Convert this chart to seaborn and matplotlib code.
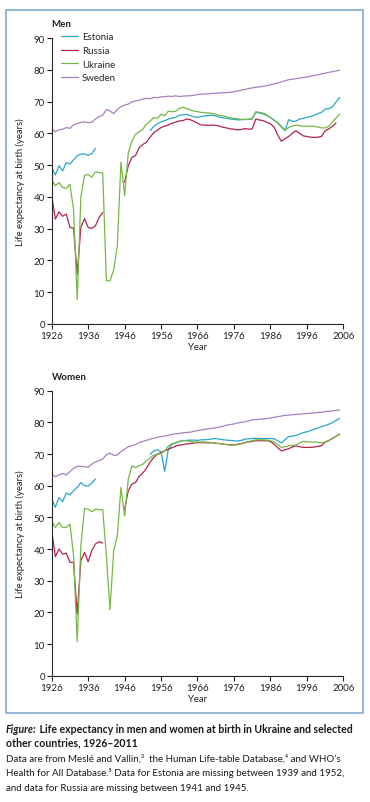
import numpy as np
import pandas as pd
import matplotlib
matplotlib.use("Agg")
import matplotlib.pyplot as plt
from matplotlib.patches import Rectangle
import seaborn as sns

nan = np.nan
years = list(range(1926, 2006))
countries = ["Estonia", "Russia", "Ukraine", "Sweden"]
colors = ["#2ba6cb", "#b3234f", "#76b846", "#a980c0"]

# ---- men ----
men_sweden = [61.5, 60.5, 61.1, 61.3, 61.8, 61.6, 62.7, 63.1, 63.4, 63.6,
              63.4, 63.5, 64.5, 65.3, 65.7, 67.5, 67.0, 66.2, 67.5, 68.4,
              68.9, 69.2, 69.9, 70.2, 70.4, 70.8, 71.0, 70.9, 71.3, 71.2,
              71.5, 71.5, 71.7, 71.6, 71.8, 71.6, 71.7, 71.8, 71.8, 72.0,
              72.2, 72.3, 72.4, 72.4, 72.6, 72.6, 72.7, 72.8, 72.8, 72.9,
              73.1, 73.3, 73.6, 73.8, 74.1, 74.3, 74.5, 74.6, 74.8, 75.0,
              75.3, 75.6, 75.8, 76.2, 76.5, 76.9, 77.0, 77.2, 77.4, 77.6,
              77.7, 78.0, 78.2, 78.4, 78.7, 78.9, 79.2, 79.4, 79.6, 79.9]
men_estonia = [49.3, 46.9, 49.8, 48.2, 50.8, 50.3, 51.7, 52.9, 53.5, 53.5,
               53.1, 53.6, 55.3, nan, nan, nan, nan, nan, nan, nan,
               nan, nan, nan, nan, nan, nan, nan, 60.8, 62.2, 63.0,
               63.6, 64.0, 64.5, 64.8, 65.0, 65.7, 65.8, 66.0, 65.6, 65.2,
               65.0, 65.3, 65.5, 65.6, 65.7, 65.5, 65.1, 64.9, 64.7, 64.5,
               64.4, 64.2, 64.3, 64.4, 64.4, 64.5, 66.6, 66.4, 66.1, 65.6,
               65.0, 64.2, 63.2, 62.0, 60.8, 64.3, 63.8, 63.8, 64.5, 64.7,
               65.0, 65.3, 65.7, 66.2, 66.6, 67.6, 67.8, 68.3, 69.9, 71.3]
men_russia = [40.4, 33.0, 35.3, 33.9, 34.6, 30.4, 30.1, 15.7, 30.4, 33.2,
              30.4, 30.1, 30.9, 33.5, 35.1, nan, nan, nan, nan, nan,
              44.6, 49.8, 52.4, 53.0, 55.5, 56.5, 57.2, 58.8, 60.2, 61.0,
              61.8, 62.3, 62.6, 63.2, 63.5, 63.9, 64.0, 64.5, 64.3, 63.8,
              63.2, 62.6, 62.6, 62.5, 62.6, 62.5, 62.3, 61.9, 61.7, 61.4,
              61.3, 61.1, 61.2, 61.5, 61.3, 61.4, 64.5, 64.2, 64.0, 63.5,
              63.0, 62.0, 59.5, 57.5, 58.3, 59.0, 60.0, 60.8, 60.0, 59.2,
              59.0, 58.8, 58.7, 58.8, 59.0, 60.8, 61.4, 62.2, 63.2, nan]
men_ukraine = [45.4, 43.5, 44.5, 43.0, 42.7, 44.0, 36.0, 7.7, 40.0, 46.8,
               47.0, 46.2, 47.9, 47.7, 47.5, 13.6, 13.6, 17.0, 24.6, 51.0,
               40.4, 53.8, 57.5, 59.7, 60.5, 61.3, 62.9, 63.8, 65.0, 64.7,
               66.0, 65.5, 67.0, 66.8, 66.9, 67.8, 68.2, 67.8, 67.4, 67.0,
               66.8, 66.6, 66.5, 66.4, 66.3, 66.0, 65.7, 65.5, 65.2, 64.9,
               64.7, 64.6, 64.4, 64.3, 64.4, 64.7, 66.8, 66.6, 66.4, 65.8,
               65.0, 64.0, 63.4, 62.2, 61.1, 61.8, 62.3, 62.6, 62.4, 62.2,
               62.3, 62.2, 62.2, 62.0, 61.7, 61.7, 62.2, 63.6, 64.8, 66.1]

# ---- women ----
women_sweden = [63.7, 62.8, 63.4, 63.9, 63.4, 64.4, 65.5, 66.1, 66.1, 66.0,
                65.8, 66.8, 67.5, 67.9, 68.4, 69.8, 70.3, 69.6, 69.7, 70.8,
                71.5, 72.3, 72.6, 73.0, 73.6, 74.0, 74.3, 74.7, 75.0, 75.3,
                75.5, 75.7, 75.9, 76.2, 76.4, 76.5, 76.7, 76.8, 76.9, 77.2,
                77.4, 77.6, 77.8, 78.0, 78.1, 78.3, 78.5, 78.8, 79.1, 79.3,
                79.5, 79.8, 80.0, 80.2, 80.4, 80.8, 80.9, 81.0, 81.1, 81.2,
                81.4, 81.6, 81.8, 82.0, 82.2, 82.3, 82.4, 82.5, 82.6, 82.7,
                82.8, 82.9, 83.0, 83.1, 83.2, 83.4, 83.5, 83.6, 83.8, 83.9]
women_estonia = [55.8, 53.2, 56.3, 54.9, 57.7, 57.1, 58.4, 59.5, 61.0, 60.0,
                 59.9, 60.8, 62.1, nan, nan, nan, nan, nan, nan, nan,
                 nan, nan, nan, nan, nan, nan, nan, 69.9, 71.0, 71.4,
                 70.7, 64.5, 71.5, 73.1, 73.5, 73.9, 74.2, 74.3, 74.4, 74.4,
                 74.3, 74.5, 74.5, 74.6, 74.8, 74.9, 74.7, 74.5, 74.4, 74.3,
                 74.2, 74.1, 74.3, 74.7, 74.8, 74.9, 75.0, 74.9, 74.9, 74.9,
                 74.9, 74.8, 74.2, 73.5, 74.5, 75.5, 75.6, 75.9, 76.3, 76.8,
                 77.0, 77.4, 77.8, 78.2, 78.7, 79.0, 79.4, 79.9, 80.6, 81.3]
women_russia = [45.8, 37.6, 40.0, 38.4, 38.7, 35.8, 35.8, 19.5, 36.3, 38.9,
                36.0, 39.5, 41.6, 42.3, 41.9, nan, nan, nan, nan, nan,
                52.6, 58.4, 60.5, 61.0, 63.0, 64.0, 65.5, 67.5, 68.9, 70.0,
                70.5, 71.0, 71.5, 72.0, 72.5, 72.8, 73.0, 73.2, 73.3, 73.5,
                73.6, 73.6, 73.6, 73.5, 73.6, 73.4, 73.3, 73.1, 73.0, 72.9,
                72.9, 73.1, 73.3, 73.6, 73.8, 74.0, 74.2, 74.2, 74.2, 74.2,
                74.0, 73.1, 72.0, 71.0, 71.3, 71.7, 72.2, 72.6, 72.3, 72.1,
                72.1, 72.1, 72.2, 72.4, 72.6, 73.8, 74.2, 74.9, 75.6, 76.3]
women_ukraine = [48.9, 46.8, 48.4, 46.8, 46.8, 47.9, 38.0, 10.7, 41.1, 52.8,
                 52.6, 51.8, 52.6, 52.4, 52.4, 38.0, 20.8, 39.5, 44.2, 59.4,
                 50.4, 62.0, 66.3, 65.7, 66.3, 66.8, 67.9, 68.7, 69.7, 69.9,
                 70.2, 71.0, 72.5, 73.3, 73.6, 74.0, 74.3, 74.2, 74.0, 73.8,
                 73.8, 73.8, 73.8, 73.7, 73.6, 73.4, 73.3, 73.1, 73.0, 72.8,
                 72.8, 73.0, 73.2, 73.6, 73.9, 74.2, 74.5, 74.5, 74.5, 74.4,
                 74.2, 73.8, 73.0, 72.1, 72.3, 72.6, 72.7, 72.8, 73.5, 74.0,
                 73.9, 73.8, 73.8, 73.7, 73.6, 73.7, 74.3, 74.9, 75.6, 76.3]


def long_frame(series):
    # one row per point; a new segment starts after every gap so lines break there
    rows = []
    for country, vals in series.items():
        seg, gap = 0, False
        for yr, v in zip(years, vals):
            if np.isnan(v):
                gap = True
                continue
            if gap:
                seg += 1
                gap = False
            rows.append((yr, v, country, f"{country}-{seg}"))
    return pd.DataFrame(rows, columns=["Year", "LE", "Country", "Segment"])


men = long_frame({"Estonia": men_estonia, "Russia": men_russia,
                  "Ukraine": men_ukraine, "Sweden": men_sweden})
women = long_frame({"Estonia": women_estonia, "Russia": women_russia,
                    "Ukraine": women_ukraine, "Sweden": women_sweden})

sns.set_style("ticks")
plt.rcParams["font.family"] = ["Lato", "DejaVu Sans"]
plt.rcParams["axes.linewidth"] = 0.8

W, H = 370, 803
fig = plt.figure(figsize=(W / 100, H / 100), dpi=100)
fig.patches.append(Rectangle((6 / W, 1 - 714 / H), 357 / W, 703 / H,
                             transform=fig.transFigure, fill=False,
                             edgecolor="#7ba2cc", lw=1.1))

palette = dict(zip(countries, colors))
ax1 = fig.add_axes([51.7 / W, 1 - 325 / H, 291.6 / W, 286 / H])
ax2 = fig.add_axes([51.7 / W, 1 - 676.7 / H, 291.6 / W, 285 / H])

for ax, df, title in [(ax1, men, "Men"), (ax2, women, "Women")]:
    sns.lineplot(data=df, x="Year", y="LE", hue="Country", units="Segment",
                 estimator=None, hue_order=countries, palette=palette,
                 lw=0.9, ax=ax, legend=(ax is ax1))
    ax.set_xlim(1926, 2006)
    ax.set_ylim(0, 90)
    ax.set_xticks(range(1926, 2007, 10))
    ax.set_yticks(range(0, 91, 10))
    ax.tick_params(direction="out", length=3.5, width=0.8, labelsize=7,
                   pad=1.5, colors="#222222")
    sns.despine(ax=ax)
    ax.set_xlabel("Year", fontsize=6.8, color="#222222", labelpad=1.5)
    ax.set_ylabel("Life expectancy at birth (years)", fontsize=6.8,
                  color="#222222")
    ax.yaxis.set_label_coords(-0.093, 0.5)
    ax.text(0, 1.05, title, transform=ax.transAxes, fontsize=7,
            fontweight="bold", ha="left", va="center", color="#222222")

handles, labels = ax1.get_legend_handles_labels()
ax1.legend(handles, labels, loc="upper left", bbox_to_anchor=(0.033, 1.02),
           frameon=False, fontsize=7, handlelength=1.7, handletextpad=0.45,
           labelspacing=0.48, borderpad=0, borderaxespad=0)

# caption
bold_kw = dict(fontsize=7.6, color="#1a1a1a", va="baseline", ha="left",
               fontweight="bold")
reg_kw = dict(fontsize=7.05, color="#1a1a1a", va="baseline", ha="left")
x0 = 6 / W
t = fig.text(x0, 1 - 733 / H, "Figure:", fontstyle="italic", **bold_kw)
fig.canvas.draw()
bb = t.get_window_extent(fig.canvas.get_renderer())
fig.text(bb.x1 / W, 1 - 733 / H,
         " Life expectancy in men and women at birth in Ukraine and selected",
         **bold_kw)
fig.text(x0, 1 - 746 / H, "other countries, 1926\u20132011", **bold_kw)
fig.text(x0, 1 - 762 / H,
         "Data are from Mesl\u00e9 and Vallin,\u00b3  the Human Life-table Database,\u2074 and WHO\u2019s",
         **reg_kw)
fig.text(x0, 1 - 776 / H,
         "Health for All Database.\u2075 Data for Estonia are missing between 1939 and 1952,",
         **reg_kw)
fig.text(x0, 1 - 791 / H,
         "and data for Russia are missing between 1941 and 1945.", **reg_kw)

fig.savefig("out.png", dpi=100)
